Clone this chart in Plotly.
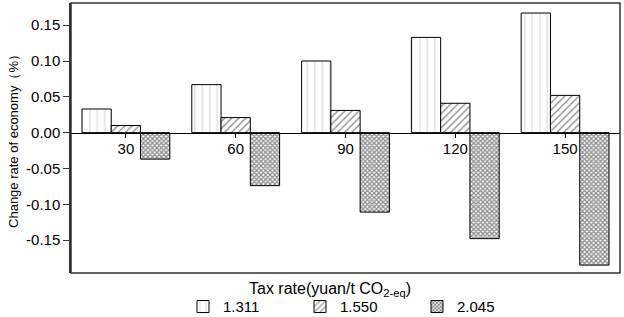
import plotly.graph_objects as go

tax_rates = [30, 60, 90, 120, 150]
series_names = ["1.311", "1.550", "2.045"]
values_1311 = [0.033, 0.067, 0.100, 0.133, 0.167]
values_1550 = [0.010, 0.021, 0.031, 0.041, 0.052]
values_2045 = [-0.037, -0.074, -0.111, -0.148, -0.185]
y_tick_vals = [-0.15, -0.10, -0.05, 0.00, 0.05, 0.10, 0.15]
y_tick_text = ["-0.15", "-0.10", "-0.05", "0.00", "0.05", "0.10", "0.15"]

Y_RANGE = [-0.196, 0.181]
X_RANGE = [15, 165]
FONT = "Liberation Sans, Arial, sans-serif"

patterns = [
    dict(shape="|", size=7.5, solidity=0.12, fgcolor="#9a9a9a", bgcolor="white", fillmode="overlay"),
    dict(shape="/", size=5, solidity=0.3, fgcolor="#333333", bgcolor="white", fillmode="overlay"),
    dict(shape="x", size=3.2, solidity=0.6, fgcolor="#111111", bgcolor="white", fillmode="overlay"),
]

fig = go.Figure()
for name, vals, pat in zip(series_names, [values_1311, values_1550, values_2045], patterns):
    fig.add_trace(go.Bar(
        x=tax_rates, y=vals, name=name,
        marker=dict(color="white", line=dict(color="black", width=1), pattern=pat),
    ))

zero_pos = (0 - Y_RANGE[0]) / (Y_RANGE[1] - Y_RANGE[0])

fig.update_layout(
    width=624, height=317,
    margin=dict(l=71, r=4, t=3, b=44, autoexpand=False),
    paper_bgcolor="white", plot_bgcolor="white",
    barmode="group", bargap=0.2, bargroupgap=0,
    font=dict(family=FONT, color="black", size=15),
    showlegend=True,
    legend=dict(orientation="h", x=0.204, xanchor="left", y=-0.064, yanchor="top",
                entrywidth=72, entrywidthmode="pixels",
                font=dict(size=15, family=FONT), bgcolor="rgba(0,0,0,0)",
                tracegroupgap=0),
    xaxis=dict(range=X_RANGE, tickvals=tax_rates, ticks="outside", ticklen=4,
               tickcolor="black", showline=True, linecolor="black", linewidth=1,
               anchor="free", position=zero_pos, showgrid=False, zeroline=False,
               ticklabelstandoff=-2,
               tickfont=dict(size=15, family=FONT)),
    yaxis=dict(range=Y_RANGE, tickvals=y_tick_vals, ticktext=y_tick_text,
               ticks="outside", ticklen=6, tickcolor="#333", showline=True,
               linecolor="#333", linewidth=1.5, showgrid=False, zeroline=False,
               tickfont=dict(size=15, family=FONT),
               title=dict(text="Change rate of economy（%）", font=dict(size=13, family=FONT), standoff=4)),
    shapes=[dict(type="rect", xref="paper", yref="paper", x0=0, x1=1, y0=0, y1=1,
                 line=dict(color="#333", width=1.5), layer="above")],
    annotations=[dict(text="Tax rate(yuan/t CO<sub>2-eq</sub>)", xref="paper", yref="paper",
                      x=0.471, y=-0.019, xanchor="center", yanchor="top", showarrow=False,
                      font=dict(size=16, family=FONT))],
)

fig.write_html("out.html", config={"displayModeBar": False},
               post_script="document.body.style.margin='0';")
